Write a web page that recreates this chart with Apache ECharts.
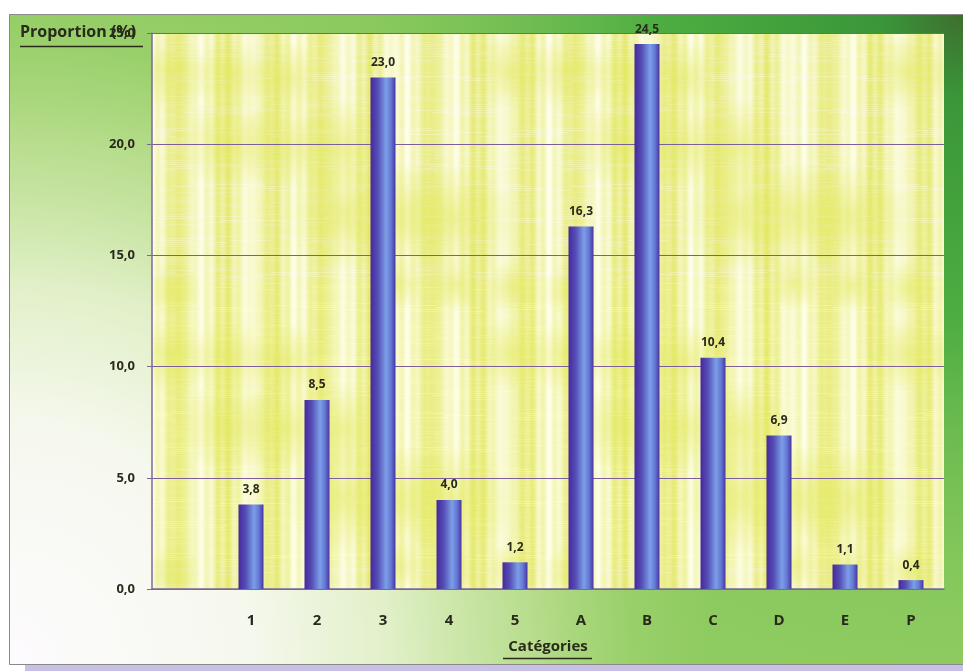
<!DOCTYPE html>
<html>
<head>
<meta charset="utf-8">
<title>Proportion par catégorie</title>
<script src="https://cdn.jsdelivr.net/npm/echarts@6/dist/echarts.min.js"></script>
<style>
  html, body { margin: 0; padding: 0; background: #ffffff; }
  #chart { width: 963px; height: 671px; }
</style>
</head>
<body>
<div id="chart"></div>
<script>
// Categories (first slot intentionally left empty) and proportions in %
const categories = ['', '1', '2', '3', '4', '5', 'A', 'B', 'C', 'D', 'E', 'P'];
const proportions = [null, 3.8, 8.5, 23.0, 4.0, 1.2, 16.3, 24.5, 10.4, 6.9, 1.1, 0.4];
const yTicks = [0, 5, 10, 15, 20, 25];

const yTitle = 'Proportion (%)';
const xTitle = 'Catégories';

const FONT = '"Open Sans", Lato, sans-serif';
const TEXT = '#2a2a1c';

function frDecimal(v) {
  return Number(v).toFixed(1).replace('.', ',');
}

// Woven yellow texture for the plot area: blotchy vertical streaks over a yellow base
function weavePattern() {
  const w = 397, h = 283;
  const c = document.createElement('canvas');
  c.width = w; c.height = h;
  const g = c.getContext('2d');
  g.fillStyle = '#e4e866';
  g.fillRect(0, 0, w, h);
  // vertical streaks of varying strength
  for (let x = 0; x < w; x++) {
    const a = 0.5 + 0.28 * Math.sin(x * 0.131 + 0.4) + 0.18 * Math.sin(x * 0.577 + 2.1) * Math.cos(x * 0.043);
    g.fillStyle = 'rgba(255,255,242,' + Math.max(0, Math.min(0.95, a)).toFixed(3) + ')';
    g.fillRect(x, 0, 1, h);
  }
  // broken horizontal threads
  for (let y = 0; y < h; y += 2) {
    const a = 0.16 + 0.16 * Math.sin(y * 0.29 + 0.9) * Math.sin(y * 0.061 + 0.2);
    const seg = 40 + Math.round(30 * (1 + Math.sin(y * 0.7)));
    const off = Math.round(60 * (1 + Math.sin(y * 1.3)));
    g.fillStyle = 'rgba(255,255,250,' + Math.max(0, a).toFixed(3) + ')';
    for (let x = -off; x < w; x += seg * 2) g.fillRect(x, y, seg, 1);
  }
  // soft yellow patches, wrapped so the tile repeats without seams
  for (let k = 0; k < 14; k++) {
    const cx = (k * 113.7) % w, cy = (k * 71.3) % h;
    const r = 28 + (k % 4) * 10;
    for (let dx = -1; dx <= 1; dx++) {
      for (let dy = -1; dy <= 1; dy++) {
        const px = cx + dx * w, py = cy + dy * h;
        const rg = g.createRadialGradient(px, py, 0, px, py, r);
        rg.addColorStop(0, 'rgba(226,232,90,0.55)');
        rg.addColorStop(1, 'rgba(226,232,90,0)');
        g.fillStyle = rg;
        g.beginPath();
        g.arc(px, py, r, 0, Math.PI * 2);
        g.fill();
      }
    }
  }
  return c;
}

const chart = echarts.init(document.getElementById('chart'), null, { renderer: 'canvas' });

const barGradient = new echarts.graphic.LinearGradient(0, 0, 1, 0, [
  { offset: 0, color: '#45289a' },
  { offset: 0.3, color: '#5650b8' },
  { offset: 0.62, color: '#7c9ee6' },
  { offset: 0.82, color: '#6478d4' },
  { offset: 1, color: '#4a34a0' }
]);

const option = {
  backgroundColor: '#ffffff',
  animation: false,
  graphic: [
    // drop shadow strip under the frame
    { type: 'rect', z: -10, silent: true,
      shape: { x: 25, y: 664, width: 938, height: 7 },
      style: { fill: '#c9c0e6' } },
    // frame base colour
    { type: 'rect', z: -9, silent: true,
      shape: { x: 9.5, y: 14.5, width: 960, height: 650 },
      style: { fill: '#8ecb60', stroke: '#8a8a8a', lineWidth: 1 } },
    // darker green towards the top-right corner
    { type: 'rect', z: -8, silent: true,
      shape: { x: 10, y: 15, width: 953, height: 649 },
      style: {
        fill: new echarts.graphic.RadialGradient(1, 0, 1.05, [
          { offset: 0, color: 'rgba(62,110,48,1)' },
          { offset: 0.12, color: 'rgba(58,150,56,1)' },
          { offset: 0.45, color: 'rgba(74,172,64,0.95)' },
          { offset: 0.75, color: 'rgba(110,188,80,0.5)' },
          { offset: 1, color: 'rgba(140,204,96,0)' }
        ])
      } },
    // pale glow from the bottom-left corner
    { type: 'rect', z: -7, silent: true,
      shape: { x: 10, y: 15, width: 953, height: 649 },
      style: {
        fill: new echarts.graphic.RadialGradient(0, 1, 1.08, [
          { offset: 0, color: 'rgba(253,251,254,1)' },
          { offset: 0.34, color: 'rgba(250,250,244,0.96)' },
          { offset: 0.54, color: 'rgba(244,248,224,0.82)' },
          { offset: 0.74, color: 'rgba(236,244,200,0.45)' },
          { offset: 0.9, color: 'rgba(220,236,170,0.12)' },
          { offset: 1, color: 'rgba(220,236,170,0)' }
        ])
      } },
    // y-axis title with underline
    { type: 'text', z: 10, left: 20, top: 24,
      style: { text: yTitle, fill: TEXT, font: 'bold 16px ' + FONT } },
    { type: 'line', z: 10, silent: true,
      shape: { x1: 20, y1: 46.5, x2: 143, y2: 46.5 },
      style: { stroke: TEXT, lineWidth: 1.5 } },
    // x-axis title underline
    { type: 'line', z: 10, silent: true,
      shape: { x1: 503, y1: 658.5, x2: 592, y2: 658.5 },
      style: { stroke: TEXT, lineWidth: 1.5 } }
  ],
  grid: {
    left: 152, right: 19, top: 33, bottom: 82,
    show: true,
    backgroundColor: { image: weavePattern(), repeat: 'repeat' },
    borderWidth: 0
  },
  xAxis: {
    type: 'category',
    data: categories,
    name: xTitle,
    nameLocation: 'middle',
    nameGap: 50,
    nameTextStyle: { color: TEXT, fontFamily: FONT, fontWeight: 'bold', fontSize: 15 },
    axisLine: { show: true, lineStyle: { color: '#7a6a98', width: 1.5 } },
    axisTick: { show: false },
    axisLabel: { color: TEXT, fontFamily: FONT, fontWeight: 'bold', fontSize: 15, margin: 24 },
    splitLine: { show: false }
  },
  yAxis: {
    type: 'value',
    min: yTicks[0],
    max: yTicks[yTicks.length - 1],
    interval: yTicks[1] - yTicks[0],
    axisLine: { show: true, lineStyle: { color: '#7a6a98', width: 1.5 } },
    axisTick: { show: true, length: 5, lineStyle: { color: '#7a6a98' } },
    axisLabel: {
      color: TEXT, fontFamily: FONT, fontWeight: 'bold', fontSize: 13, margin: 17,
      formatter: v => frDecimal(v)
    },
    splitLine: { show: true, lineStyle: { color: '#7c5f98', width: 1 } }
  },
  series: [{
    type: 'bar',
    data: proportions,
    barWidth: 25,
    itemStyle: { color: barGradient },
    label: {
      show: true,
      position: 'top',
      distance: 9,
      color: TEXT,
      fontFamily: FONT,
      fontWeight: 'bold',
      fontSize: 12,
      formatter: p => frDecimal(p.value)
    }
  }]
};

chart.setOption(option);
</script>
</body>
</html>
